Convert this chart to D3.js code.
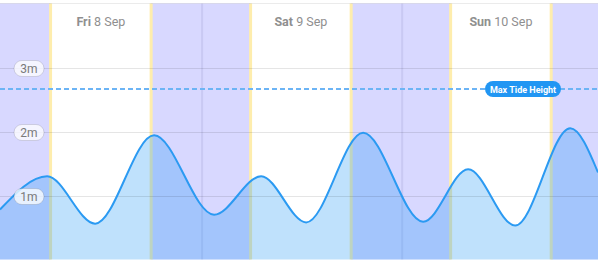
<!DOCTYPE html>
<html lang="en">
<head>
    <meta charset="UTF-8">
    <title>Tide Chart</title>
    <script src="https://d3js.org/d3.v7.min.js"></script>
    <style>
        body {
            margin: 0;
            background: #fff;
        }

        svg {
            display: block;
            font-family: Roboto, Arial, sans-serif;
        }

        .day-label {
            font-size: 12.5px;
            fill: #8f8f8f;
            text-anchor: middle;
        }

        .axis-label {
            font-size: 12px;
            fill: #7a7a7a;
            text-anchor: middle;
        }

        .max-label {
            font-size: 9px;
            font-weight: bold;
            fill: #fff;
            text-anchor: middle;
        }
    </style>
</head>
<body>
    <div id="chart"></div>

    <script>
        // Tide extremes (plus the values at the chart edges)
        var tideTimes = ["2023-09-07T23:45", "2023-09-08T05:24", "2023-09-08T11:10", "2023-09-08T18:14",
                         "2023-09-09T01:26", "2023-09-09T07:05", "2023-09-09T12:29", "2023-09-09T19:19",
                         "2023-09-10T02:31", "2023-09-10T07:55", "2023-09-10T13:34", "2023-09-10T20:10",
                         "2023-09-10T23:30"];
        var tideHeights = [0.78, 1.30, 0.56, 1.94, 0.70, 1.30, 0.58, 1.98, 0.59, 1.41, 0.53, 2.05, 1.36];

        var sunrises = ["2023-09-08T05:49", "2023-09-09T05:49", "2023-09-10T05:49"];
        var sunsets = ["2023-09-08T17:53", "2023-09-09T17:53", "2023-09-10T17:53"];

        var dayNames = ["Fri", "Sat", "Sun"];
        var dayDates = ["8 Sep", "9 Sep", "10 Sep"];

        var heightTicks = [1, 2, 3];
        var maxTideHeight = 2.66;

        var width = 598,
            height = 262;

        var parse = d3.timeParse("%Y-%m-%dT%H:%M");

        var x = d3.scaleTime()
                  .domain([parse(tideTimes[0]), parse(tideTimes[tideTimes.length - 1])])
                  .range([0, width]);

        var y = d3.scaleLinear()
                  .domain([0, 4])
                  .range([259.5, 3.5]);

        // snap a horizontal line to the pixel grid
        function crisp(v) { return Math.round(y(v)) + 0.5; }

        var svg = d3.select("#chart")
                    .append("svg")
                    .attr("width", width)
                    .attr("height", height);

        var x0 = x.domain()[0], x1 = x.domain()[1];

        // Night bands: before first sunrise, between sunset and next sunrise, after last sunset
        var nights = [];
        var starts = [x0].concat(sunsets.map(parse));
        var ends = sunrises.map(parse).concat([x1]);
        starts.forEach(function(s, i) { nights.push([s, ends[i]]); });

        svg.append("rect")
           .attr("x", 0)
           .attr("y", y(4))
           .attr("width", width)
           .attr("height", y(0) - y(4))
           .attr("fill", "#fff");

        svg.selectAll(".night")
           .data(nights)
           .enter().append("rect")
           .attr("class", "night")
           .attr("x", function(d) { return x(d[0]); })
           .attr("y", y(4))
           .attr("width", function(d) { return x(d[1]) - x(d[0]); })
           .attr("height", y(0) - y(4))
           .attr("fill", "#d8d8ff");

        // Midnight lines
        svg.selectAll(".midnight")
           .data(d3.timeDay.range(x0, x1).slice(1))
           .enter().append("line")
           .attr("x1", function(d) { return x(d); })
           .attr("x2", function(d) { return x(d); })
           .attr("y1", y(4))
           .attr("y2", y(0))
           .attr("stroke", "rgba(100,100,160,0.13)")
           .attr("stroke-width", 2);

        // Sunrise / sunset lines
        svg.selectAll(".sun")
           .data(sunrises.concat(sunsets).map(parse))
           .enter().append("line")
           .attr("x1", function(d) { return x(d); })
           .attr("x2", function(d) { return x(d); })
           .attr("y1", y(4))
           .attr("y2", y(0))
           .attr("stroke", "#feedad")
           .attr("stroke-width", 3);

        // Top border
        svg.append("line")
           .attr("x1", 0).attr("x2", width)
           .attr("y1", y(4)).attr("y2", y(4))
           .attr("stroke", "rgba(0,0,0,0.08)");

        var tide = tideTimes.map(function(t, i) { return { date: parse(t), h: tideHeights[i] }; });

        var area = d3.area()
                     .x(function(d) { return x(d.date); })
                     .y0(y(0))
                     .y1(function(d) { return y(d.h); })
                     .curve(d3.curveMonotoneX);

        var line = d3.line()
                     .x(function(d) { return x(d.date); })
                     .y(function(d) { return y(d.h); })
                     .curve(d3.curveMonotoneX);

        svg.append("path")
           .datum(tide)
           .attr("d", area)
           .attr("fill", "rgba(33,150,243,0.29)");

        // Horizontal grid
        svg.selectAll(".grid")
           .data(heightTicks)
           .enter().append("line")
           .attr("x1", 0).attr("x2", width)
           .attr("y1", function(d) { return crisp(d); })
           .attr("y2", function(d) { return crisp(d); })
           .attr("stroke", "rgba(0,0,0,0.1)");

        svg.append("path")
           .datum(tide)
           .attr("d", line)
           .attr("fill", "none")
           .attr("stroke", "#2b9af2")
           .attr("stroke-width", 2);

        // Max tide height marker
        svg.append("line")
           .attr("x1", 0).attr("x2", width)
           .attr("y1", Math.round(y(maxTideHeight))).attr("y2", Math.round(y(maxTideHeight)))
           .attr("stroke", "#6cb4f5")
           .attr("stroke-width", 2)
           .attr("stroke-dasharray", "5,3");

        var badge = svg.append("g")
                       .attr("transform", "translate(523," + Math.round(y(maxTideHeight)) + ")");
        badge.append("rect")
             .attr("x", -38).attr("y", -8)
             .attr("width", 76).attr("height", 16)
             .attr("rx", 8)
             .attr("fill", "#2196f3");
        badge.append("text")
             .attr("class", "max-label")
             .attr("y", 3.5)
             .text("Max Tide Height");

        // Height labels
        var tick = svg.selectAll(".tick")
                      .data(heightTicks)
                      .enter().append("g")
                      .attr("transform", function(d) { return "translate(29," + crisp(d) + ")"; });
        tick.append("rect")
            .attr("x", -15).attr("y", -8)
            .attr("width", 30).attr("height", 16)
            .attr("rx", 8)
            .attr("fill", "rgba(255,255,255,0.75)")
            .attr("stroke", "rgba(0,0,0,0.12)");
        tick.append("text")
            .attr("class", "axis-label")
            .attr("y", 4.5)
            .text(function(d) { return d + "m"; });

        // Day labels centred on daylight
        var dayText = svg.selectAll(".day-label")
                         .data(dayNames)
                         .enter().append("text")
                         .attr("class", "day-label")
                         .attr("x", function(d, i) {
                             return (x(parse(sunrises[i])) + x(parse(sunsets[i]))) / 2;
                         })
                         .attr("y", 26);
        dayText.append("tspan")
               .attr("font-weight", "bold")
               .text(function(d) { return d; });
        dayText.append("tspan")
               .text(function(d, i) { return " " + dayDates[i]; });
    </script>
</body>
</html>
